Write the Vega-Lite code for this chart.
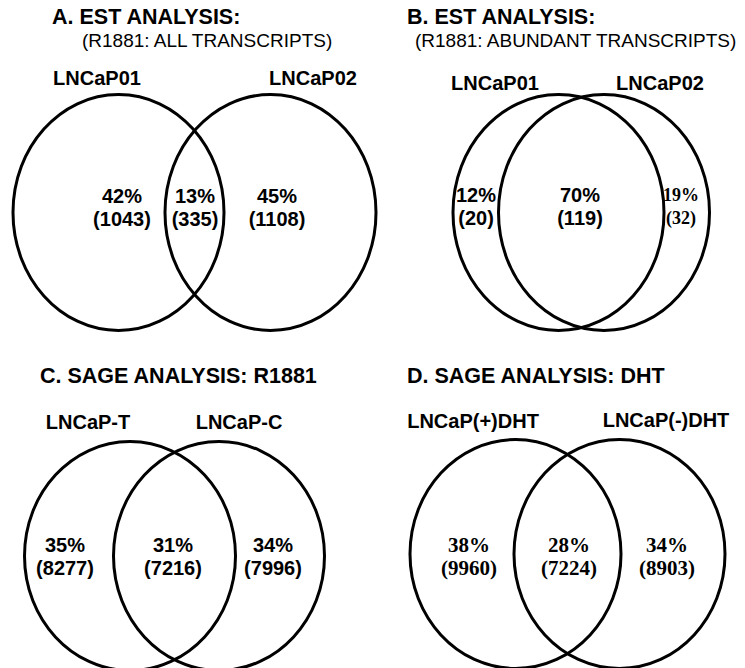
{
  "$schema": "https://vega.github.io/schema/vega-lite/v6.json",
  "width": 745,
  "height": 668,
  "autosize": {"type": "none"},
  "padding": 0,
  "background": "white",
  "config": {"view": {"stroke": null}},
  "datasets": {
    "circles": [
      {"panel": "A", "set": "LNCaP01", "x": 118.5, "y": 212.5},
      {"panel": "A", "set": "LNCaP02", "x": 270.5, "y": 212.5},
      {"panel": "B", "set": "LNCaP01", "x": 558.5, "y": 212.5},
      {"panel": "B", "set": "LNCaP02", "x": 604, "y": 212.5},
      {"panel": "C", "set": "LNCaP-T", "x": 130, "y": 556},
      {"panel": "C", "set": "LNCaP-C", "x": 219, "y": 556},
      {"panel": "D", "set": "LNCaP(+)DHT", "x": 515.5, "y": 554},
      {"panel": "D", "set": "LNCaP(-)DHT", "x": 619.5, "y": 554}
    ],
    "labels": [
      {"role": "title", "text": "A.  EST ANALYSIS:", "x": 52, "y": 18},
      {"role": "subtitle", "text": "(R1881: ALL TRANSCRIPTS)", "x": 82, "y": 41},
      {"role": "title", "text": "B.  EST ANALYSIS:", "x": 407, "y": 18},
      {"role": "subtitle", "text": "(R1881: ABUNDANT TRANSCRIPTS)", "x": 415, "y": 41},
      {"role": "title", "text": "C.  SAGE ANALYSIS: R1881", "x": 40, "y": 377},
      {"role": "title", "text": "D.  SAGE ANALYSIS: DHT", "x": 407, "y": 377},
      {"role": "set", "text": "LNCaP01", "x": 97, "y": 79},
      {"role": "set", "text": "LNCaP02", "x": 313, "y": 79},
      {"role": "set", "text": "LNCaP01", "x": 495, "y": 84},
      {"role": "set", "text": "LNCaP02", "x": 660, "y": 84},
      {"role": "set", "text": "LNCaP-T", "x": 88, "y": 423},
      {"role": "set", "text": "LNCaP-C", "x": 239, "y": 423},
      {"role": "set", "text": "LNCaP(+)DHT", "x": 473, "y": 422},
      {"role": "set", "text": "LNCaP(-)DHT", "x": 666, "y": 421}
    ],
    "regions": [
      {"panel": "A", "region": "left", "pct": "42%", "count": "(1043)", "x": 122, "y": 197},
      {"panel": "A", "region": "overlap", "pct": "13%", "count": "(335)", "x": 195, "y": 197},
      {"panel": "A", "region": "right", "pct": "45%", "count": "(1108)", "x": 277, "y": 197},
      {"panel": "B", "region": "left", "pct": "12%", "count": "(20)", "x": 476, "y": 196},
      {"panel": "B", "region": "overlap", "pct": "70%", "count": "(119)", "x": 580, "y": 196},
      {"panel": "B", "region": "right", "pct": "19%", "count": "(32)", "x": 681, "y": 196},
      {"panel": "C", "region": "left", "pct": "35%", "count": "(8277)", "x": 65, "y": 546},
      {"panel": "C", "region": "overlap", "pct": "31%", "count": "(7216)", "x": 173, "y": 546},
      {"panel": "C", "region": "right", "pct": "34%", "count": "(7996)", "x": 273, "y": 546},
      {"panel": "D", "region": "left", "pct": "38%", "count": "(9960)", "x": 469, "y": 546},
      {"panel": "D", "region": "overlap", "pct": "28%", "count": "(7224)", "x": 569, "y": 546},
      {"panel": "D", "region": "right", "pct": "34%", "count": "(8903)", "x": 667, "y": 546}
    ]
  },
  "encoding": {
    "x": {"field": "x", "type": "quantitative", "scale": {"domain": [0, 745]}, "axis": null},
    "y": {"field": "y", "type": "quantitative", "scale": {"domain": [0, 668], "reverse": true}, "axis": null}
  },
  "layer": [
    {
      "data": {"name": "circles"},
      "transform": [{"filter": "datum.panel === 'A' || datum.panel === 'B'"}],
      "mark": {"type": "point", "shape": "M 1 0 C 1 0.6175 0.5523 1.118 0 1.118 C -0.5523 1.118 -1 0.6175 -1 0 C -1 -0.6175 -0.5523 -1.118 0 -1.118 C 0.5523 -1.118 1 -0.6175 1 0 Z", "size": 44521, "filled": false, "stroke": "black", "strokeWidth": 3, "opacity": 1}
    },
    {
      "data": {"name": "circles"},
      "transform": [{"filter": "datum.panel === 'C' || datum.panel === 'D'"}],
      "mark": {"type": "point", "shape": "M 1 0 C 1 0.5992 0.5523 1.085 0 1.085 C -0.5523 1.085 -1 0.5992 -1 0 C -1 -0.5992 -0.5523 -1.085 0 -1.085 C 0.5523 -1.085 1 -0.5992 1 0 Z", "size": 44521, "filled": false, "stroke": "black", "strokeWidth": 3, "opacity": 1}
    },
    {
      "data": {"name": "labels"},
      "transform": [{"filter": "datum.role === 'title'"}],
      "mark": {"type": "text", "align": "left", "baseline": "middle", "font": "Liberation Sans", "fontWeight": "bold", "fontSize": 21.5, "color": "black"},
      "encoding": {"text": {"field": "text"}}
    },
    {
      "data": {"name": "labels"},
      "transform": [{"filter": "datum.role === 'subtitle'"}],
      "mark": {"type": "text", "align": "left", "baseline": "middle", "font": "Liberation Sans", "fontSize": 19, "color": "black"},
      "encoding": {"text": {"field": "text"}}
    },
    {
      "data": {"name": "labels"},
      "transform": [{"filter": "datum.role === 'set'"}],
      "mark": {"type": "text", "align": "center", "baseline": "middle", "font": "Liberation Sans", "fontWeight": "bold", "fontSize": 20, "color": "black"},
      "encoding": {"text": {"field": "text"}}
    },
    {
      "data": {"name": "regions"},
      "transform": [{"filter": "!(datum.panel === 'D' || (datum.panel === 'B' && datum.region === 'right'))"}],
      "mark": {"type": "text", "align": "center", "baseline": "middle", "font": "Liberation Sans", "fontWeight": "bold", "fontSize": 20, "color": "black"},
      "encoding": {"text": {"field": "pct"}}
    },
    {
      "data": {"name": "regions"},
      "transform": [{"filter": "!(datum.panel === 'D' || (datum.panel === 'B' && datum.region === 'right'))"}],
      "mark": {"type": "text", "align": "center", "baseline": "middle", "dy": 23, "font": "Liberation Sans", "fontWeight": "bold", "fontSize": 20, "color": "black"},
      "encoding": {"text": {"field": "count"}}
    },
    {
      "data": {"name": "regions"},
      "transform": [{"filter": "datum.panel === 'D'"}],
      "mark": {"type": "text", "align": "center", "baseline": "middle", "font": "Liberation Serif", "fontWeight": "bold", "fontSize": 21, "color": "black"},
      "encoding": {"text": {"field": "pct"}}
    },
    {
      "data": {"name": "regions"},
      "transform": [{"filter": "datum.panel === 'D'"}],
      "mark": {"type": "text", "align": "center", "baseline": "middle", "dy": 23, "font": "Liberation Serif", "fontWeight": "bold", "fontSize": 21, "color": "black"},
      "encoding": {"text": {"field": "count"}}
    },
    {
      "data": {"name": "regions"},
      "transform": [{"filter": "datum.panel === 'B' && datum.region === 'right'"}],
      "mark": {"type": "text", "align": "center", "baseline": "middle", "font": "Liberation Serif", "fontWeight": "bold", "fontSize": 18, "color": "black"},
      "encoding": {"text": {"field": "pct"}}
    },
    {
      "data": {"name": "regions"},
      "transform": [{"filter": "datum.panel === 'B' && datum.region === 'right'"}],
      "mark": {"type": "text", "align": "center", "baseline": "middle", "dy": 23, "font": "Liberation Serif", "fontWeight": "bold", "fontSize": 18, "color": "black"},
      "encoding": {"text": {"field": "count"}}
    }
  ]
}
